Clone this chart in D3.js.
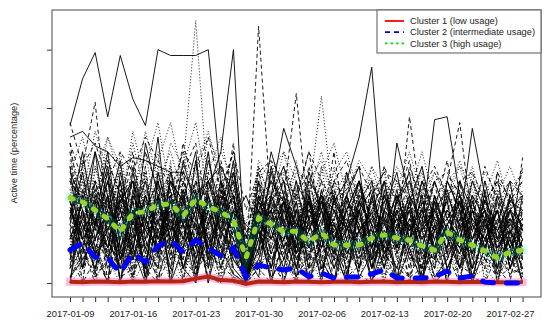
<!DOCTYPE html>
<html>
<head>
<meta charset="utf-8">
<title>Active time clusters</title>
<script src="https://d3js.org/d3.v7.min.js"></script>
<style>
  body { margin: 0; background: #fff; }
  svg text { font-family: "Liberation Sans", Arial, sans-serif; fill: #222; }
</style>
</head>
<body>
<svg id="chart" width="550" height="323"></svg>
<script>
// weekdays shown on the x axis
const dates = [
  "2017-01-09","2017-01-10","2017-01-11","2017-01-12","2017-01-13",
  "2017-01-16","2017-01-17","2017-01-18","2017-01-19","2017-01-20",
  "2017-01-23","2017-01-24","2017-01-25","2017-01-26","2017-01-27",
  "2017-01-30","2017-01-31","2017-02-01","2017-02-02","2017-02-03",
  "2017-02-06","2017-02-07","2017-02-08","2017-02-09","2017-02-10",
  "2017-02-13","2017-02-14","2017-02-15","2017-02-16","2017-02-17",
  "2017-02-20","2017-02-21","2017-02-22","2017-02-23","2017-02-24",
  "2017-02-27","2017-02-28"
];
const labelDates = ["2017-01-09","2017-01-16","2017-01-23","2017-01-30",
                    "2017-02-06","2017-02-13","2017-02-20","2017-02-27"];
const yTicks = [0, 20, 40, 60, 80];

// individual users (active time, %)
const users = [
  [54,70,79,57,78,63,54,80,78,78,78,80,35,22,30,18,25,12,20,28,15,22,30,18,24,10,20,26,15,22,18,12,25,20,14,22,18],
  [15,25,10,35,20,8,28,18,32,12,26,20,30,15,5,88,25,10,20,30,15,22,12,28,18,8,24,14,30,10,20,16,25,12,22,8,18],
  [20,12,30,8,25,15,35,10,28,40,90,30,12,25,8,20,30,15,22,10,28,18,5,25,12,30,20,8,26,15,10,22,18,28,12,20,15],
  [30,18,25,40,12,22,35,15,28,20,10,32,45,80,3,30,20,15,25,12,28,18,22,10,30,15,25,20,12,28,18,10,22,15,25,12,20],
  [22,40,62,20,28,12,30,18,25,15,35,20,28,12,8,25,15,30,65,20,25,12,18,30,15,22,28,10,20,25,15,30,12,22,18,25,15],
  [12,25,18,30,15,28,20,10,25,35,18,22,30,15,10,18,28,20,12,30,64,25,15,22,28,10,20,15,30,18,12,25,20,15,22,10,28],
  [10,22,15,30,8,25,18,12,35,20,28,15,22,30,5,18,25,30,15,20,12,28,35,50,74,20,15,25,10,18,22,30,12,20,15,25,10],
  [18,30,12,25,35,15,22,28,10,30,18,25,15,32,5,20,28,12,25,18,30,15,22,12,28,20,15,57,25,18,35,55,20,15,28,12,43],
  [35,28,40,22,15,30,45,20,38,25,12,35,20,42,6,28,35,18,30,22,40,15,28,35,20,30,18,25,38,15,28,22,35,18,30,25,20],
  [25,12,30,18,22,35,10,28,15,20,32,12,25,18,8,22,15,28,20,12,25,15,30,18,22,12,48,30,20,56,57,30,18,25,12,22,15],
  [8,18,5,22,12,2,15,25,8,18,30,10,5,20,0,12,22,8,15,25,10,18,5,20,12,28,8,15,22,5,18,10,25,8,15,20,5],
  [45,30,52,38,25,48,30,42,55,35,28,50,40,30,12,42,35,28,40,32,25,38,45,30,36,28,40,32,25,38,30,42,28,35,25,32,38],
  [28,15,22,12,30,20,25,35,18,22,15,28,12,25,20,15,30,53,40,22,15,28,20,35,12,25,18,30,22,15,25,20,53,30,15,20,25],
  [2,10,20,5,15,28,8,18,3,25,12,6,22,10,0,15,5,20,10,3,18,8,12,4,20,6,15,10,2,12,8,18,5,10,3,8,2],
  [30,42,25,50,35,20,40,55,30,45,25,38,50,28,10,35,42,25,38,30,45,28,35,20,40,32,25,38,30,22,35,28,40,25,32,20,30],
  [18,5,28,12,35,8,25,15,30,5,22,12,35,8,2,25,10,22,5,28,12,20,8,25,5,18,12,28,8,20,5,15,10,22,8,15,5],
  [40,22,35,18,28,45,15,38,22,48,30,18,42,25,15,38,22,35,18,40,25,32,18,35,22,40,28,18,35,25,42,18,30,22,38,28,35],
  [12,35,8,40,20,10,38,5,28,15,42,25,8,35,4,22,12,38,25,8,30,20,12,28,8,22,35,15,28,10,25,8,18,30,10,25,12],
  [25,15,45,30,10,38,20,50,12,32,22,45,15,38,18,10,40,22,12,35,28,10,38,22,15,35,12,28,40,20,12,35,25,10,30,18,22],
  [5,12,2,8,18,4,10,2,15,8,3,12,6,2,0,8,4,12,2,10,5,8,2,6,12,3,8,2,5,10,2,6,3,8,2,5,3],
  [38,50,30,45,25,52,35,28,48,40,55,30,45,35,20,40,28,45,35,25,38,48,30,42,35,28,32,45,30,38,28,40,35,30,42,25,35],
  [15,28,20,35,8,18,30,12,22,5,15,30,18,10,0,28,18,5,22,12,25,5,15,28,5,15,22,8,12,30,15,5,20,12,25,5,15],
  [22,8,32,15,25,12,5,30,18,25,8,20,35,15,5,10,30,18,8,25,15,32,20,8,18,12,25,20,35,8,20,28,8,25,18,10,28],
  [32,20,15,28,38,25,12,22,40,10,28,35,22,18,8,32,12,25,30,15,20,35,25,15,30,38,10,22,15,30,8,25,32,20,12,30,22],
  [10,30,22,8,28,35,18,30,12,25,20,8,28,38,12,20,35,28,10,18,30,8,25,35,12,20,30,18,25,12,30,20,15,28,20,35,8],
  [48,35,28,42,30,20,45,32,25,38,48,22,30,45,15,35,25,40,28,45,20,35,42,28,20,35,28,42,22,35,38,30,22,40,28,35,30],
  [0,5,12,3,8,15,2,10,5,0,8,15,3,8,0,5,12,2,8,3,10,2,5,12,3,8,2,6,10,3,5,8,2,5,8,3,6],
  [20,38,15,25,42,12,30,20,35,28,18,42,25,20,5,25,30,20,35,12,22,30,18,25,32,15,28,35,18,25,32,15,30,22,18,28,25],
  [28,10,35,20,5,25,12,35,20,8,30,15,20,30,2,15,22,32,18,28,8,20,30,12,22,28,15,30,12,20,25,12,28,18,30,12,20],
  [42,25,38,50,40,28,52,35,45,30,40,52,35,28,10,30,38,45,25,35,42,30,38,28,40,25,35,30,45,28,35,40,25,38,30,40,28],
  [50,52,47,45,40,43,42,40,38,38,30,35,40,30,12,25,20,28,15,22,30,25,18,28,20,15,22,18,25,12,20,28,15,22,18,25,20],
  [16,22,28,10,32,20,15,25,30,18,12,25,32,10,6,20,15,25,12,30,18,10,25,18,12,30,20,12,18,25,10,30,15,28,20,12,25],
  [35,15,20,32,18,40,25,15,30,22,35,18,28,40,15,25,40,20,32,18,35,25,15,32,25,18,30,25,15,35,22,30,20,12,35,20,30],
  [6,20,10,15,25,8,20,12,18,32,5,15,10,25,3,18,8,15,28,5,12,25,10,18,8,15,5,20,12,8,20,12,5,15,12,18,8],
  [55,40,48,35,45,38,50,42,32,45,38,50,32,45,25,38,42,35,30,45,35,28,32,40,30,38,35,28,32,40,30,35,38,28,35,30,38],
  [24,35,18,30,22,15,32,25,40,15,30,22,18,35,8,30,20,35,15,28,22,15,35,20,25,30,18,35,25,15,30,22,18,30,25,20,32],
  [0,25,3,30,0,22,5,35,0,28,2,30,8,25,0,20,0,28,5,22,0,30,3,18,0,25,2,20,0,28,5,15,0,22,3,18,0],
  [30,0,28,5,35,2,25,0,32,5,22,0,30,3,0,25,5,20,0,28,3,22,0,25,5,18,0,28,3,20,0,25,5,18,0,22,3],
  [12,38,2,20,40,5,30,10,42,0,35,15,2,38,0,30,10,0,32,15,5,35,8,28,12,0,30,18,5,25,10,32,0,20,8,28,5],
  [40,5,20,38,0,32,12,5,38,20,0,35,25,5,0,12,38,20,2,30,15,0,28,20,5,32,10,25,0,30,18,5,28,12,25,5,20],
  [5,18,35,0,15,40,0,25,8,35,20,0,28,15,2,35,0,15,28,5,32,12,0,30,18,5,25,0,20,12,30,0,22,15,5,25,12],
  [25,32,0,12,28,0,38,15,0,25,38,10,0,30,5,0,22,35,15,0,20,28,5,12,30,0,18,25,10,0,22,15,30,0,18,8,25],
  [2,8,15,25,5,12,0,18,25,5,0,22,12,3,0,18,2,8,25,0,15,5,20,2,10,22,0,12,18,2,8,20,0,12,5,15,0],
  [35,20,10,0,30,25,5,0,20,38,12,5,35,20,0,5,30,12,0,22,35,15,2,25,8,30,15,2,28,18,0,22,10,30,5,0,25],
  [18,0,40,25,10,0,32,20,5,15,0,28,40,12,0,35,18,5,28,10,0,25,32,5,18,0,28,10,25,5,20,0,30,5,22,12,0],
  [8,30,12,0,38,18,5,30,0,12,25,0,18,42,3,8,25,0,15,32,8,0,18,25,0,15,32,12,0,18,28,5,15,25,0,18,10],
  [45,12,0,28,15,35,0,12,28,40,5,18,0,15,0,28,5,30,20,5,28,0,12,32,15,5,20,30,2,15,0,28,12,5,28,15,5],
  [0,15,25,8,0,18,28,2,12,0,20,5,15,0,0,10,20,8,0,15,2,18,8,0,20,5,0,15,22,0,12,2,18,5,0,12,8],
  [22,45,18,35,25,10,48,30,15,42,25,35,18,8,2,20,45,30,12,38,25,10,30,40,8,25,38,15,30,8,35,25,10,35,15,30,18],
  [28,5,15,0,22,30,15,5,25,0,32,12,5,28,2,22,8,0,25,18,2,30,15,5,25,12,0,22,5,28,10,0,25,8,20,2,15],
  [15,22,5,42,30,0,20,40,18,2,15,30,22,0,0,40,28,12,35,2,15,40,20,5,35,10,22,5,32,20,5,12,28,0,32,22,10],
  [38,28,45,15,5,30,22,10,35,28,45,5,25,35,10,2,30,40,22,8,32,15,25,35,20,5,30,15,35,22,12,35,20,25,5,30,18],
  [10,0,8,18,2,5,15,0,10,5,18,2,0,12,0,5,0,15,5,2,8,0,15,3,0,10,5,2,12,0,5,15,2,0,10,3,5],
  [32,40,22,10,45,20,28,45,12,30,22,45,8,25,5,40,12,25,42,18,5,22,38,10,28,40,12,25,40,10,32,18,38,15,25,35,8],
  [0,32,20,45,12,25,2,38,20,12,42,8,32,20,0,15,28,35,10,25,30,12,0,28,35,10,28,38,12,5,35,25,5,32,10,25,30],
  [20,10,35,28,0,15,40,8,30,22,5,38,18,30,3,30,10,22,30,38,12,35,28,15,2,30,22,5,25,35,10,18,30,12,38,5,22],
  [5,42,28,12,32,5,18,30,38,8,25,15,40,5,0,25,35,8,20,5,40,28,10,35,22,15,5,35,15,20,28,8,35,20,12,28,2],
  [26,15,5,22,8,28,2,22,5,30,8,25,5,18,0,18,5,25,10,30,5,15,25,5,30,8,25,10,5,25,15,28,2,18,25,5,15],
  [48,22,32,8,25,42,15,28,10,20,35,28,22,48,8,28,20,8,35,25,18,45,15,8,35,22,15,40,28,12,25,35,8,28,35,15,40],
  [12,5,22,30,18,0,8,28,15,35,0,20,30,2,0,8,25,15,5,35,18,8,30,5,15,25,8,30,5,18,25,5,20,30,8,20,15],
  [36,25,10,18,28,35,22,10,28,15,28,10,25,20,5,35,15,28,8,18,28,20,10,18,25,35,12,22,18,35,22,15,35,25,15,8,30]
];

// cluster centres (active time, %)
const cluster1 = [0.4,0.3,0.5,0.4,0.3,0.5,0.4,0.6,0.5,0.6,1.5,2.2,1.0,0.8,-0.3,0.5,0.4,0.3,0.5,0.4,0.3,0.4,0.5,0.3,0.4,0.5,0.3,0.4,0.3,0.5,0.4,0.3,0.4,0.3,0.3,0.2,0.3];
const cluster2 = [11.3,13.7,8.9,8.6,3.4,10.3,7.2,12.7,14.7,10.6,14.7,12.0,9.3,12.0,2.1,6.2,5.1,4.5,5.1,2.1,3.4,1.7,2.1,2.1,3.1,4.5,1.7,1.7,1.7,2.1,4.1,1.7,2.4,0.3,0,0,0];
const cluster3 = [29.2,27.8,25.0,22.0,17.5,24.0,24.4,26.8,27.1,23.0,28.8,26.1,24.4,21.6,8.6,22.3,20.2,17.5,17.8,14.1,17.2,13.0,13.0,13.0,15.4,16.5,15.4,14.7,12.7,11.3,17.5,14.7,13.0,11.0,8.6,10.6,11.3];

const legendLabels = ["Cluster 1 (low usage)", "Cluster 2 (intermediate usage)", "Cluster 3 (high usage)"];

const svg = d3.select("#chart");
const plotL = 52, plotR = 541, plotT = 10, plotB = 297;

const x = d3.scalePoint().domain(dates).range([70, 522.6]);
const y = d3.scaleLinear().domain([-4.8, 93.6]).range([plotB, plotT]);

const line = d3.line().x((d, i) => x(dates[i])).y(d => y(d));

// solid / dashed / dotted, cycling over users
const ltys = [null, "4,3", "1,2"];

svg.append("g").selectAll("path").data(users).join("path")
  .attr("d", line)
  .attr("fill", "none")
  .attr("stroke", "#000")
  .attr("stroke-width", 0.9)
  .attr("stroke-dasharray", (d, i) => ltys[i % ltys.length]);

// translucent bands
svg.append("path").attr("d", line(cluster1)).attr("fill", "none")
  .attr("stroke", "rgba(255,105,180,0.45)").attr("stroke-width", 8)
  .attr("stroke-linecap", "square");
svg.append("path").attr("d", line(cluster3)).attr("fill", "none")
  .attr("stroke", "rgba(0,210,180,0.2)").attr("stroke-width", 9)
  .attr("stroke-linecap", "square");

// cluster centres
svg.append("path").attr("d", line(cluster1)).attr("fill", "none")
  .attr("stroke", "#b3260f").attr("stroke-width", 4);
svg.append("path").attr("d", line(cluster2)).attr("fill", "none")
  .attr("stroke", "#0000ff").attr("stroke-width", 5)
  .attr("stroke-linecap", "round").attr("stroke-dasharray", "11,13");
svg.append("path").attr("d", line(cluster3)).attr("fill", "none")
  .attr("stroke", "#9fd028").attr("stroke-width", 5)
  .attr("stroke-linecap", "round").attr("stroke-dasharray", "3,10");

// axes
const xAxis = svg.append("g").attr("transform", `translate(0,${plotB})`)
  .call(d3.axisBottom(x).tickSize(5).tickPadding(8)
    .tickFormat(d => labelDates.includes(d) ? d : ""));
xAxis.select(".domain").remove();
xAxis.selectAll("line").attr("stroke", "#333");
xAxis.selectAll("text").style("font-size", "9.4px").attr("fill", "#222");

const yAxis = svg.append("g").attr("transform", `translate(${plotL},0)`)
  .call(d3.axisLeft(y).tickValues(yTicks).tickSize(5).tickFormat(""));
yAxis.select(".domain").remove();
yAxis.selectAll("line").attr("stroke", "#333");

// plot box
svg.append("rect").attr("x", plotL).attr("y", plotT)
  .attr("width", plotR - plotL).attr("height", plotB - plotT)
  .attr("fill", "none").attr("stroke", "#666").attr("stroke-width", 1.2);

svg.append("text")
  .attr("transform", "translate(14,153) rotate(-90)")
  .attr("text-anchor", "middle").attr("dy", "0.35em")
  .style("font-size", "9.3px")
  .text("Active time (percentage)");

// legend
const legend = svg.append("g");
legend.append("rect").attr("x", 377).attr("y", plotT)
  .attr("width", plotR - 377).attr("height", 43)
  .attr("fill", "#fff").attr("stroke", "#666").attr("stroke-width", 1.1);
const legendColors = ["#ff0000", "#0000cc", "#00dd00"];
const legendDash = [null, "5,4", "2.5,3"];
legendLabels.forEach((lab, i) => {
  const ly = 21 + i * 11.2;
  legend.append("line").attr("x1", 385).attr("x2", 404).attr("y1", ly).attr("y2", ly)
    .attr("stroke", legendColors[i]).attr("stroke-width", 1.8)
    .attr("stroke-dasharray", legendDash[i]);
  legend.append("text").attr("x", 410).attr("y", ly).attr("dy", "0.35em")
    .style("font-size", "9.3px").text(lab);
});
</script>
</body>
</html>
